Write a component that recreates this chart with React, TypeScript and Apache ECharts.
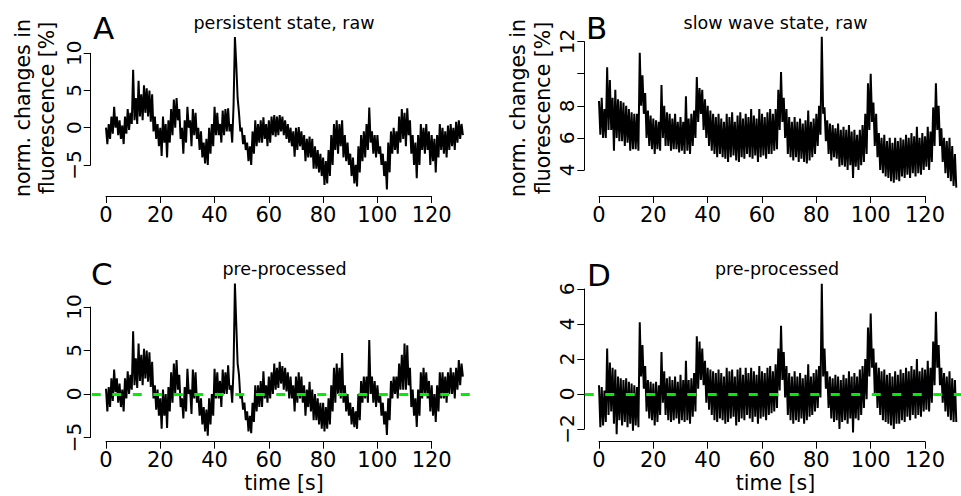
import React, { useEffect, useRef } from "react";
import * as echarts from "echarts";

// sampling interval of the traces (seconds)
const STEP = 0.5;
const X_TICKS_MAX = 120;
const X_TICK_STEP = 20;

// A: persistent state, raw (values at t = 0, 0.5, 1, ... s)
const RAW_PERSISTENT = [
  0.0, -2.2, 0.5, -1.5, 1.5, -0.8, 2.8, 0.0, 1.5, -1.0, 1.0, -1.5, 0.3, -2.2, 1.5, -0.8, 2.5, -0.3, 2.0, 0.5,
  7.8, 1.0, 4.0, 0.5, 6.3, 1.5, 4.5, 1.0, 5.7, 2.0, 5.3, 1.5, 5.0, 0.8, 4.5, -0.5, 1.5, -1.5, 0.5, -2.5,
  0.0, -3.8, 1.5, -2.0, 0.5, -4.0, 1.0, -2.0, 2.5, -1.0, 3.8, 0.0, 4.0, 1.0, 2.5, -1.5, 0.0, -3.5, 1.0, -2.0,
  2.8, 0.0, 1.0, -2.5, 2.5, -1.0, 2.0, -1.5, 0.0, -3.0, -0.5, -4.0, -2.0, -4.8, -1.5, -5.0, 0.0, -3.5, 0.5, -2.5,
  2.8, -1.0, 2.0, -1.0, 0.5, -2.0, 2.3, -1.0, 2.5, -0.5, 2.6, -0.5, 0.5, -2.0, 3.0, 12.2, 8.5, 4.0, 2.0, -0.5,
  0.0, -2.2, -1.0, -3.0, -2.0, -4.5, -2.5, -5.0, -0.5, -3.5, 1.0, -2.5, 0.5, -2.0, 1.0, -2.0, 1.4, -1.5, 0.5, -2.5,
  1.0, -2.0, 1.5, -1.0, 1.7, -1.2, 1.5, -1.0, 1.7, -0.5, 1.5, -1.0, 1.0, -1.5, 0.5, -2.0, 0.0, -2.5, -0.5, -3.9,
  0.0, -3.0, 0.1, -2.5, -0.5, -3.0, -1.0, -4.5, -1.5, -4.0, -1.2, -4.0, -1.5, -5.5, -2.5, -5.5, -3.0, -6.0, -3.5, -6.5,
  -4.0, -7.7, -4.5, -7.5, -3.0, -6.5, -1.0, -5.0, 0.5, -3.0, 1.0, -3.5, 0.5, -2.5, 1.0, -4.0, -1.0, -4.5, -2.0, -5.0,
  -3.5, -6.5, -4.0, -7.5, -5.0, -7.9, -2.5, -6.0, -1.0, -4.5, -0.5, -4.0, 0.5, -3.0, 2.7, -2.0, -0.5, -3.5, -1.0, -4.0,
  -1.0, -3.5, -2.5, -5.0, -3.5, -6.5, -4.5, -8.3, -2.0, -6.0, -0.5, -3.5, 0.0, -3.0, -0.5, -3.5, 1.5, -2.0, 2.5, -1.5,
  2.0, -2.5, 2.6, -1.0, 1.0, -3.5, -1.0, -5.0, -2.0, -6.8, -1.0, -5.0, 0.5, -3.0, 0.0, -3.5, 0.5, -3.0, -0.5, -5.0,
  -1.0, -4.5, -1.5, -6.0, -1.0, -4.0, 0.5, -3.0, 0.0, -3.5, -0.5, -4.0, 0.3, -3.0, 0.5, -2.5, 0.0, -3.0, 0.8, -2.0,
  1.0, -1.5, 0.5, -1.0,
];

// B: slow wave state, raw
const RAW_SLOW_WAVE = [
  8.3, 6.2, 8.5, 6.0, 7.8, 6.0, 10.4, 6.5, 9.6, 6.5, 8.5, 5.2, 9.0, 6.0, 8.4, 5.8, 8.3, 5.8, 8.2, 5.5,
  8.0, 5.7, 7.8, 5.2, 7.6, 5.3, 7.5, 5.3, 7.5, 5.2, 11.3, 8.0, 9.9, 7.5, 8.8, 6.0, 7.7, 5.5, 7.4, 5.3,
  7.2, 5.0, 7.1, 5.3, 7.0, 5.2, 9.3, 6.0, 8.0, 5.5, 7.6, 5.5, 7.5, 5.2, 7.2, 5.3, 7.5, 5.3, 7.0, 5.1,
  7.3, 5.2, 7.0, 5.0, 8.6, 5.2, 7.2, 5.0, 7.5, 5.5, 7.7, 6.0, 9.8, 7.0, 9.1, 7.5, 9.0, 6.5, 8.4, 6.0,
  8.0, 5.5, 7.7, 5.2, 7.5, 5.0, 7.3, 4.8, 7.5, 5.0, 7.2, 4.8, 7.0, 4.7, 7.5, 4.5, 7.3, 4.8, 7.6, 4.9,
  7.0, 4.6, 7.4, 4.5, 7.6, 4.8, 7.2, 4.7, 7.5, 5.0, 7.3, 4.8, 7.8, 4.7, 7.4, 4.9, 7.2, 4.5, 7.8, 4.8,
  7.5, 4.9, 7.3, 4.7, 7.6, 5.0, 7.8, 5.0, 7.5, 5.2, 7.8, 5.3, 9.0, 6.5, 10.1, 7.0, 8.5, 6.0, 7.8, 5.0,
  7.3, 4.8, 7.0, 4.6, 7.3, 4.8, 7.0, 4.5, 7.2, 4.7, 6.9, 4.5, 7.1, 4.4, 7.7, 4.6, 7.0, 4.8, 7.2, 5.0,
  7.5, 5.5, 8.0, 6.2, 12.3, 7.5, 7.9, 5.8, 7.1, 5.0, 6.9, 4.6, 6.8, 4.8, 6.6, 4.7, 6.9, 4.2, 6.5, 4.3,
  6.7, 4.2, 6.5, 4.0, 6.8, 4.3, 6.4, 3.5, 6.5, 4.2, 6.2, 4.0, 6.5, 4.3, 6.8, 4.5, 7.5, 5.0, 9.4, 6.5,
  10.0, 7.0, 8.2, 5.5, 7.5, 4.8, 6.3, 4.0, 6.0, 3.8, 6.2, 3.6, 5.8, 3.5, 6.0, 3.3, 5.7, 3.2, 6.0, 3.4,
  5.8, 3.3, 6.0, 3.6, 5.9, 3.5, 6.2, 3.7, 6.0, 3.5, 6.3, 3.8, 6.1, 3.6, 6.7, 3.8, 6.0, 3.7, 6.3, 4.0,
  6.1, 4.2, 6.7, 4.0, 6.4, 4.5, 7.9, 5.5, 9.4, 6.5, 8.0, 5.5, 6.6, 4.5, 6.0, 3.8, 5.8, 3.5, 6.0, 3.3,
  5.5, 3.0, 5.0, 2.9,
];

// C: persistent state, pre-processed
const PRE_PERSISTENT = [
  0.6, -2.0, 0.8, -1.5, 1.8, -0.8, 2.8, 0.2, 1.8, -1.0, 1.2, -1.5, 0.5, -2.0, 1.8, -0.5, 2.6, 0.0, 2.2, 0.5,
  7.2, 1.0, 4.1, 0.7, 5.8, 1.5, 4.5, 1.0, 5.2, 1.8, 5.0, 1.4, 4.8, 0.8, 3.7, -0.5, 1.0, -1.8, 0.5, -2.5,
  -0.5, -4.0, 0.5, -2.5, 0.0, -3.9, 0.8, -2.0, 2.5, -1.0, 3.5, 0.0, 3.9, 0.5, 2.2, -1.5, -0.5, -2.8, 0.8, -2.0,
  2.9, 0.0, 0.5, -2.3, 2.8, -0.5, 2.5, -1.0, 0.0, -2.5, -0.5, -3.5, -1.5, -4.3, -1.8, -4.8, -0.5, -3.5, 0.0, -2.5,
  2.9, -0.5, 2.5, -0.5, 1.5, -1.5, 2.8, 0.0, 2.5, 0.0, 3.3, 0.5, 1.0, -1.0, 3.0, 12.7, 8.0, 3.5, 2.2, -0.5,
  0.0, -1.8, -1.0, -3.0, -2.0, -4.3, -2.5, -4.5, -1.0, -3.2, 1.0, -2.0, 1.0, -1.5, 1.5, -1.5, 2.6, -0.5, 1.0, -1.0,
  2.0, -0.5, 2.5, 0.0, 3.5, 0.5, 3.0, 0.7, 3.7, 1.2, 3.2, 0.5, 3.0, 0.3, 2.5, -0.5, 2.0, -0.5, 1.0, -2.0,
  2.0, -1.0, 2.5, -0.5, 2.0, -1.0, 1.0, -2.5, 0.5, -1.5, 1.4, -2.0, 0.5, -3.0, 0.0, -3.0, -0.5, -3.5, -1.0, -4.0,
  -1.0, -4.3, -1.5, -4.0, -0.5, -3.5, 1.0, -2.0, 3.0, -1.0, 3.5, 0.0, 3.0, -0.5, 4.7, -1.0, 1.0, -2.0, 0.0, -2.5,
  -1.0, -3.5, -1.5, -3.8, -2.0, -4.0, 0.0, -3.0, 1.5, -1.0, 2.0, -0.5, 2.0, -1.0, 6.2, 0.0, 2.0, -1.0, 1.5, -1.5,
  1.0, -1.0, 0.0, -2.5, -1.0, -3.5, -2.0, -4.7, -0.5, -3.0, 1.5, -0.5, 2.0, 0.0, 2.0, -0.5, 3.5, 0.5, 4.5, 0.5,
  5.8, 0.5, 5.6, 1.0, 3.0, -1.5, 0.5, -2.5, -0.5, -3.8, 0.5, -2.5, 2.5, -0.5, 3.0, 0.0, 2.5, -0.5, 1.5, -2.0,
  1.0, -2.5, 0.0, -3.2, 1.0, -2.0, 2.5, -0.5, 2.5, -0.5, 2.0, -1.0, 2.5, 0.0, 3.0, 0.0, 2.5, -0.5, 3.0, 0.5,
  3.9, 1.0, 3.5, 2.0,
];

// D: slow wave state, pre-processed
const PRE_SLOW_WAVE = [
  0.5, -1.9, 0.4, -1.8, 0.2, -1.6, 2.6, -1.2, 1.8, -1.0, 1.5, -1.7, 1.4, -2.3, 1.0, -1.5, 0.9, -1.8, 0.8, -1.6,
  0.9, -1.9, 0.7, -1.7, 0.6, -2.1, 0.5, -1.8, 0.4, -1.9, 4.1, 1.0, 2.8, 0.3, 1.6, -1.0, 0.8, -1.4, 0.7, -1.5,
  0.6, -1.8, 0.7, -1.6, 0.5, -1.2, 2.4, -0.5, 1.3, -1.2, 0.9, -1.5, 1.0, -1.6, 0.8, -1.5, 1.0, -1.4, 0.7, -1.7,
  1.1, -1.5, 0.8, -1.6, 1.9, -1.5, 0.8, -1.7, 0.9, -1.3, 1.2, -1.0, 3.3, 0.3, 3.0, 0.8, 2.6, 0.5, 1.9, -0.5,
  1.5, -0.9, 1.4, -1.2, 1.3, -1.5, 1.2, -1.6, 1.4, -1.4, 1.2, -1.5, 1.0, -1.7, 1.5, -1.6, 1.3, -1.4, 1.4, -1.3,
  1.0, -1.8, 1.4, -1.6, 1.5, -1.4, 1.1, -1.5, 1.5, -1.2, 1.2, -1.4, 1.5, -1.6, 1.3, -1.3, 1.1, -1.7, 1.6, -1.4,
  1.3, -1.3, 1.2, -1.5, 1.5, -1.2, 1.6, -1.1, 1.3, -1.0, 1.7, -0.8, 2.6, 0.2, 3.9, 0.8, 2.4, -0.2, 1.6, -1.2,
  1.2, -1.5, 1.0, -1.7, 1.3, -1.5, 1.0, -1.6, 1.2, -1.4, 0.9, -1.7, 1.1, -1.5, 1.7, -1.3, 1.0, -1.2, 1.2, -1.0,
  1.4, -0.8, 1.6, -0.2, 6.3, 1.0, 2.6, 0.3, 1.3, -0.8, 1.0, -1.4, 0.9, -1.6, 1.1, -1.5, 1.0, -2.0, 0.8, -1.6,
  1.1, -1.5, 0.9, -1.7, 1.3, -1.4, 1.0, -2.2, 1.2, -1.4, 1.0, -1.5, 1.4, -1.2, 1.6, -0.8, 2.0, -0.3, 3.8, 1.0,
  4.6, 1.5, 2.6, 0.0, 1.8, -0.8, 1.5, -1.2, 1.3, -1.5, 1.4, -1.6, 1.1, -1.7, 1.2, -1.8, 1.0, -2.0, 1.3, -1.7,
  1.1, -1.7, 1.4, -1.5, 1.2, -1.6, 1.5, -1.3, 1.3, -1.5, 1.6, -1.2, 1.4, -1.4, 2.0, -1.2, 1.3, -1.3, 1.5, -1.0,
  1.4, -0.9, 1.9, -1.0, 1.5, -0.5, 3.0, 0.5, 4.7, 1.5, 2.8, 0.5, 1.5, -0.5, 1.2, -1.0, 1.0, -1.3, 1.3, -1.5,
  0.9, -1.6, 0.8, -1.6,
];

const PANEL_LETTERS = ["A", "B", "C", "D"];
const PANEL_TITLES = ["persistent state, raw", "slow wave state, raw", "pre-processed", "pre-processed"];
const Y_TITLE_LINES = ["norm. changes in", "fluorescence [%]"];
const X_TITLE = "time [s]";

// layout (pixels) — mapping of each panel's axes
const FONT = "'DejaVu Sans', 'Liberation Sans', sans-serif";
const PANELS = [
  { series: RAW_PERSISTENT, x0: 106, xs: 2.714, y0: 127.7, ys: 7.44, axisY: 196, axisX: 90.7, yMin: -5, yMax: 10, yInt: 5, dMin: -9.2, dMax: 13.1, hide: [] as number[], zero: false },
  { series: RAW_SLOW_WAVE, x0: 599, xs: 2.717, y0: 234.2, ys: 16.05, axisY: 196, axisX: 584.3, yMin: 4, yMax: 12, yInt: 2, dMin: 2.5, dMax: 12.7, hide: [10], zero: false },
  { series: PRE_PERSISTENT, x0: 106, xs: 2.714, y0: 394, ys: 8.7, axisY: 441.7, axisX: 90.7, yMin: -5, yMax: 10, yInt: 5, dMin: -5.5, dMax: 13.5, hide: [] as number[], zero: true },
  { series: PRE_SLOW_WAVE, x0: 599, xs: 2.717, y0: 394, ys: 17.5, axisY: 441.7, axisX: 584.3, yMin: -2, yMax: 6, yInt: 2, dMin: -2.7, dMax: 6.7, hide: [] as number[], zero: true },
];
const X_MIN = -5.24;
const X_MAX = 136.24;

const fmt = (v: number) => (v < 0 ? "\u2212" + Math.abs(v) : String(v));

export default function App() {
  const ref = useRef<HTMLDivElement>(null);
  useEffect(() => {
    const chart = echarts.init(ref.current!, null, { renderer: "svg" });
    const grid: any[] = [];
    const xAxis: any[] = [];
    const yAxis: any[] = [];
    const series: any[] = [];
    const axisLine = { show: true, lineStyle: { color: "#000", width: 1 } };
    const axisTick = { show: true, length: 7, lineStyle: { color: "#000", width: 1 } };

    PANELS.forEach((p) => {
      // data grid
      const g = grid.length;
      grid.push({
        left: p.x0 + X_MIN * p.xs,
        width: (X_MAX - X_MIN) * p.xs,
        top: p.y0 - p.dMax * p.ys,
        height: (p.dMax - p.dMin) * p.ys,
        outerBoundsMode: "none",
        containLabel: false,
      });
      xAxis.push({ gridIndex: g, type: "value", min: X_MIN, max: X_MAX, show: false });
      yAxis.push({ gridIndex: g, type: "value", min: p.dMin, max: p.dMax, show: false });
      series.push({
        type: "line",
        xAxisIndex: g,
        yAxisIndex: g,
        data: p.series.map((v, k) => [k * STEP, v]),
        showSymbol: false,
        symbol: "none",
        lineStyle: { color: "#000", width: 2, join: "miter", miterLimit: 2 },
        emphasis: { disabled: true },
        silent: true,
        markLine: p.zero
          ? {
              silent: true,
              symbol: ["none", "none"],
              label: { show: false },
              emphasis: { disabled: true },
              lineStyle: { color: "#00ee00", width: 3, type: [9, 11.5], cap: "butt" },
              data: [{ yAxis: 0 }],
            }
          : undefined,
      });

      // x axis grid
      const gx = grid.length;
      grid.push({ left: p.x0, width: X_TICKS_MAX * p.xs, top: p.axisY - 1, height: 1, outerBoundsMode: "none", containLabel: false });
      xAxis.push({
        gridIndex: gx,
        type: "value",
        min: 0,
        max: X_TICKS_MAX,
        interval: X_TICK_STEP,
        position: "bottom",
        axisLine,
        axisTick,
        splitLine: { show: false },
        axisLabel: { color: "#000", fontSize: 21, fontFamily: FONT, margin: 8, formatter: fmt },
      });
      yAxis.push({ gridIndex: gx, type: "value", min: 0, max: 1, show: false });

      // y axis grid
      const gy = grid.length;
      grid.push({
        left: p.axisX,
        width: 1,
        top: p.y0 - p.yMax * p.ys,
        height: (p.yMax - p.yMin) * p.ys,
        outerBoundsMode: "none",
        containLabel: false,
      });
      xAxis.push({ gridIndex: gy, type: "value", min: 0, max: 1, show: false });
      yAxis.push({
        gridIndex: gy,
        type: "value",
        min: p.yMin,
        max: p.yMax,
        interval: p.yInt,
        position: "left",
        axisLine,
        axisTick,
        splitLine: { show: false },
        axisLabel: {
          color: "#000",
          fontSize: 20,
          fontFamily: FONT,
          margin: 7,
          rotate: 90,
          formatter: (v: number) => (p.hide.includes(v) ? "" : fmt(v)),
        },
      });
    });

    const txt = (x: number, y: number, text: string, size: number, align: string, rot = 0) => ({
      type: "text",
      x,
      y,
      rotation: rot,
      silent: true,
      style: { text, fill: "#000", font: `${size}px ${FONT}`, textAlign: align, textVerticalAlign: "middle" },
    });

    const graphic: any[] = [
      txt(93, 27.5, PANEL_LETTERS[0], 31, "left"),
      txt(586, 27.5, PANEL_LETTERS[1], 31, "left"),
      txt(91, 274, PANEL_LETTERS[2], 31, "left"),
      txt(587, 275, PANEL_LETTERS[3], 31, "left"),
      txt(284, 22.5, PANEL_TITLES[0], 17.5, "center"),
      txt(775.5, 22.5, PANEL_TITLES[1], 17.5, "center"),
      txt(284.5, 268.5, PANEL_TITLES[2], 17.5, "center"),
      txt(777, 268.5, PANEL_TITLES[3], 17.5, "center"),
      txt(23, 108, Y_TITLE_LINES[0], 20.5, "center", Math.PI / 2),
      txt(47, 108, Y_TITLE_LINES[1], 20.5, "center", Math.PI / 2),
      txt(518, 108, Y_TITLE_LINES[0], 20.5, "center", Math.PI / 2),
      txt(543, 108, Y_TITLE_LINES[1], 20.5, "center", Math.PI / 2),
      txt(284, 483, X_TITLE, 20.5, "center"),
      txt(775.5, 483, X_TITLE, 20.5, "center"),
    ];

    chart.setOption({
      animation: false,
      backgroundColor: "#fff",
      grid,
      xAxis,
      yAxis,
      series,
      graphic,
    });
    return () => chart.dispose();
  }, []);
  return (
    <div
      ref={ref}
      style={{ position: "fixed", left: 0, top: 0, width: 961, height: 496, background: "#fff" }}
    />
  );
}
